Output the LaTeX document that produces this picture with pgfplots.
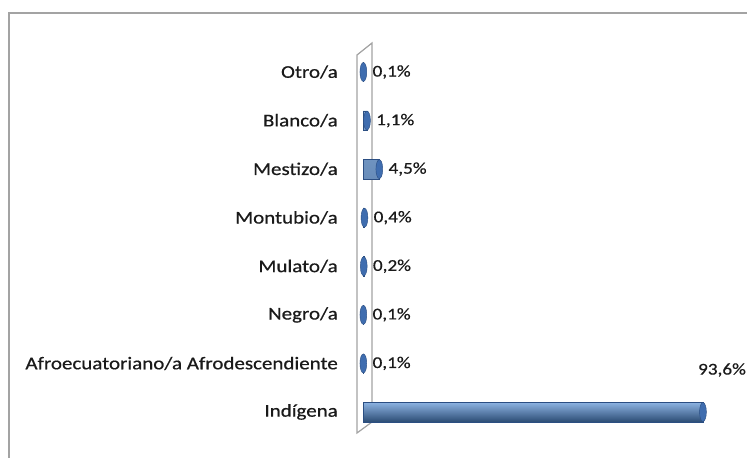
\documentclass[border=0pt]{standalone}
\usepackage{fontspec}
\setmainfont{Carlito}[FakeStretch=1.17, FakeBold=0.6]
\usepackage{pgfplots}
\usepackage{pgfplotstable}
\pgfplotsset{compat=1.18}

\definecolor{barTop}{HTML}{8DB3E2}
\definecolor{barMid}{HTML}{4F81BD}
\definecolor{barBot}{HTML}{2C4D75}
\definecolor{capFill}{HTML}{3F6DAF}
\definecolor{capEdge}{HTML}{2B4E82}
\definecolor{frameGray}{HTML}{A3A3A3}
\definecolor{txt}{HTML}{1A1A1A}

% pos 0 = Indígena (bottom) ... pos 7 = Otro/a (top)
\pgfplotstableread{
pos value
7 0.1
6 1.1
5 4.5
4 0.4
3 0.2
2 0.1
1 0.1
}\smallgroups
\pgfplotstableread{
pos value
0 93.6
}\indigena

\begin{document}
\begin{tikzpicture}[x=1bp,y=1bp]
  % outer chart frame (runs off the right and bottom edges)
  \draw[frameGray, line width=1.4bp] (9,-10) -- (9,445) -- (770,445);
  % 3D wall
  \draw[frameGray, line width=1.2bp, fill=white] (357,25) -- (357,403) -- (372,415) -- (372,36) -- cycle;

  \begin{axis}[
      at={(363bp,21.7bp)}, anchor=south west,
      scale only axis,
      width=363.2bp, height=388.6bp,
      xmin=0, xmax=100,
      ymin=-0.5, ymax=7.5,
      xbar, bar width=0.4, bar shift=0pt,
      clip=false,
      axis line style={draw=none},
      xtick=\empty,
      ytick={0,...,7},
      yticklabels={Indígena, Afroecuatoriano/a Afrodescendiente, Negro/a, Mulato/a, Montubio/a, Mestizo/a, Blanco/a, Otro/a},
      ytick style={draw=none},
      major tick length=0pt,
      yticklabel style={font=\fontsize{18}{21}\selectfont, text=txt, inner sep=0pt, xshift=-25bp},
      point meta=x,
      nodes near coords={\pgfmathprintnumber[fixed, fixed zerofill, precision=1, use comma, assume math mode=true]{\pgfplotspointmeta}\%},
      every node near coord/.append style={font=\fontsize{16.5}{19}\selectfont, text=txt, inner sep=0pt},
      bar style/.style={draw=capEdge, line width=0.4bp, top color=barTop, middle color=barMid, bottom color=barBot,
        mark=*, mark size=9.5bp, mark options={xscale=0.36, fill=capFill, draw=capEdge, line width=0.4bp}},
    ]
    \addplot[bar style, nodes near coords style={anchor=west, xshift=9bp}]
      table[x=value, y=pos] {\smallgroups};
    \addplot[bar style, nodes near coords style={anchor=center, xshift=19bp, yshift=42bp}]
      table[x=value, y=pos] {\indigena};
  \end{axis}
  \pgfresetboundingbox
  \path (0,0) rectangle (747,458);
\end{tikzpicture}
\end{document}
